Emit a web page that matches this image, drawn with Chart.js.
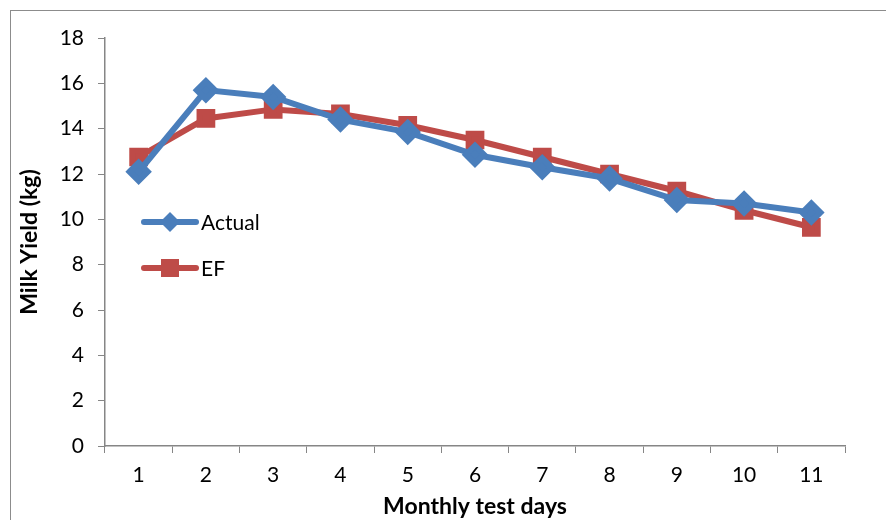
<!DOCTYPE html>
<html>
<head>
<meta charset="utf-8">
<script src="https://cdn.jsdelivr.net/npm/chart.js@4.4.1/dist/chart.umd.min.js"></script>
<style>
  html, body { margin: 0; padding: 0; background: #fff; }
  #wrap { width: 886px; height: 520px; position: relative; }
</style>
</head>
<body>
<div id="wrap"><canvas id="milkChart" width="886" height="520"></canvas></div>
<script>
// datos
const days = ['1', '2', '3', '4', '5', '6', '7', '8', '9', '10', '11'];
const actual = [12.1, 15.7, 15.4, 14.4, 13.85, 12.85, 12.3, 11.8, 10.85, 10.7, 10.3];
const ef = [12.75, 14.45, 14.85, 14.65, 14.15, 13.5, 12.75, 12.0, 11.25, 10.4, 9.65];
const yTicks = [0, 2, 4, 6, 8, 10, 12, 14, 16, 18];

const blue = '#4A7EBB';
const red = '#BE4B48';
const axisGrey = '#868686';
const fontFam = "Lato, 'Open Sans', sans-serif";

// borde exterior del gráfico
const frame = {
    id: 'frame',
    beforeDraw(chart) {
        const c = chart.ctx;
        c.save();
        c.fillStyle = '#fff';
        c.fillRect(0, 0, chart.width, chart.height);
        c.strokeStyle = '#8c8c8c';
        c.lineWidth = 1;
        c.strokeRect(10.5, 10.5, 1000, 1000);
        c.restore();
    }
};

// leyenda dentro del área del gráfico
const insideLegend = {
    id: 'insideLegend',
    afterDraw(chart) {
        const c = chart.ctx;
        const items = [
            { label: chart.data.datasets[0].label, color: blue, shape: 'diamond', y: 222 },
            { label: chart.data.datasets[1].label, color: red, shape: 'square', y: 268 }
        ];
        c.save();
        items.forEach(it => {
            c.strokeStyle = it.color;
            c.fillStyle = it.color;
            c.lineWidth = 6;
            c.lineCap = 'round';
            c.beginPath();
            c.moveTo(144, it.y);
            c.lineTo(196, it.y);
            c.stroke();
            const cx = 170;
            c.beginPath();
            if (it.shape === 'diamond') {
                c.moveTo(cx, it.y - 10);
                c.lineTo(cx + 10, it.y);
                c.lineTo(cx, it.y + 10);
                c.lineTo(cx - 10, it.y);
                c.closePath();
                c.fill();
            } else {
                c.fillRect(cx - 9, it.y - 9, 18, 18);
            }
            c.fillStyle = '#000';
            c.font = '21px ' + fontFam;
            c.textBaseline = 'middle';
            c.fillText(it.label, 201, it.y + 1);
        });
        c.restore();
    }
};

new Chart(document.getElementById('milkChart'), {
    type: 'line',
    data: {
        labels: days,
        datasets: [{
            label: 'Actual',
            data: actual,
            borderColor: blue,
            backgroundColor: blue,
            borderWidth: 6,
            pointStyle: 'rectRot',
            pointRadius: 9,
            pointHoverRadius: 9,
            tension: 0
        }, {
            label: 'EF',
            data: ef,
            borderColor: red,
            backgroundColor: red,
            borderWidth: 6,
            pointStyle: 'rect',
            pointRadius: 9,
            pointHoverRadius: 9,
            tension: 0
        }]
    },
    options: {
        responsive: false,
        animation: false,
        events: [],
        layout: { padding: { left: 10, top: 38, right: 41, bottom: 0 } },
        plugins: {
            legend: { display: false },
            tooltip: { enabled: false }
        },
        scales: {
            x: {
                offset: true,
                grid: {
                    offset: true,
                    drawOnChartArea: false,
                    drawTicks: true,
                    tickLength: 7,
                    color: axisGrey
                },
                border: { color: axisGrey, width: 1.5 },
                ticks: {
                    color: '#000',
                    padding: 10,
                    maxRotation: 0,
                    font: { family: fontFam, size: 21 }
                },
                title: {
                    display: true,
                    text: 'Monthly test days',
                    color: '#000',
                    padding: { top: 0, bottom: 0 },
                    font: { family: fontFam, size: 23, weight: 'bold' }
                },
                afterFit(scale) { scale.height = 74; }
            },
            y: {
                min: 0,
                max: 18,
                afterBuildTicks(scale) { scale.ticks = yTicks.map(v => ({ value: v })); },
                grid: {
                    drawOnChartArea: false,
                    drawTicks: true,
                    tickLength: 7,
                    color: axisGrey
                },
                border: { color: axisGrey, width: 1.5 },
                ticks: {
                    color: '#000',
                    padding: 14,
                    font: { family: fontFam, size: 21 }
                },
                title: {
                    display: true,
                    text: 'Milk Yield (kg)',
                    color: '#000',
                    padding: { top: 6, bottom: 0 },
                    font: { family: fontFam, size: 23, weight: 'bold' }
                },
                afterFit(scale) { scale.width = 95; }
            }
        }
    },
    plugins: [frame, insideLegend]
});
</script>
</body>
</html>
